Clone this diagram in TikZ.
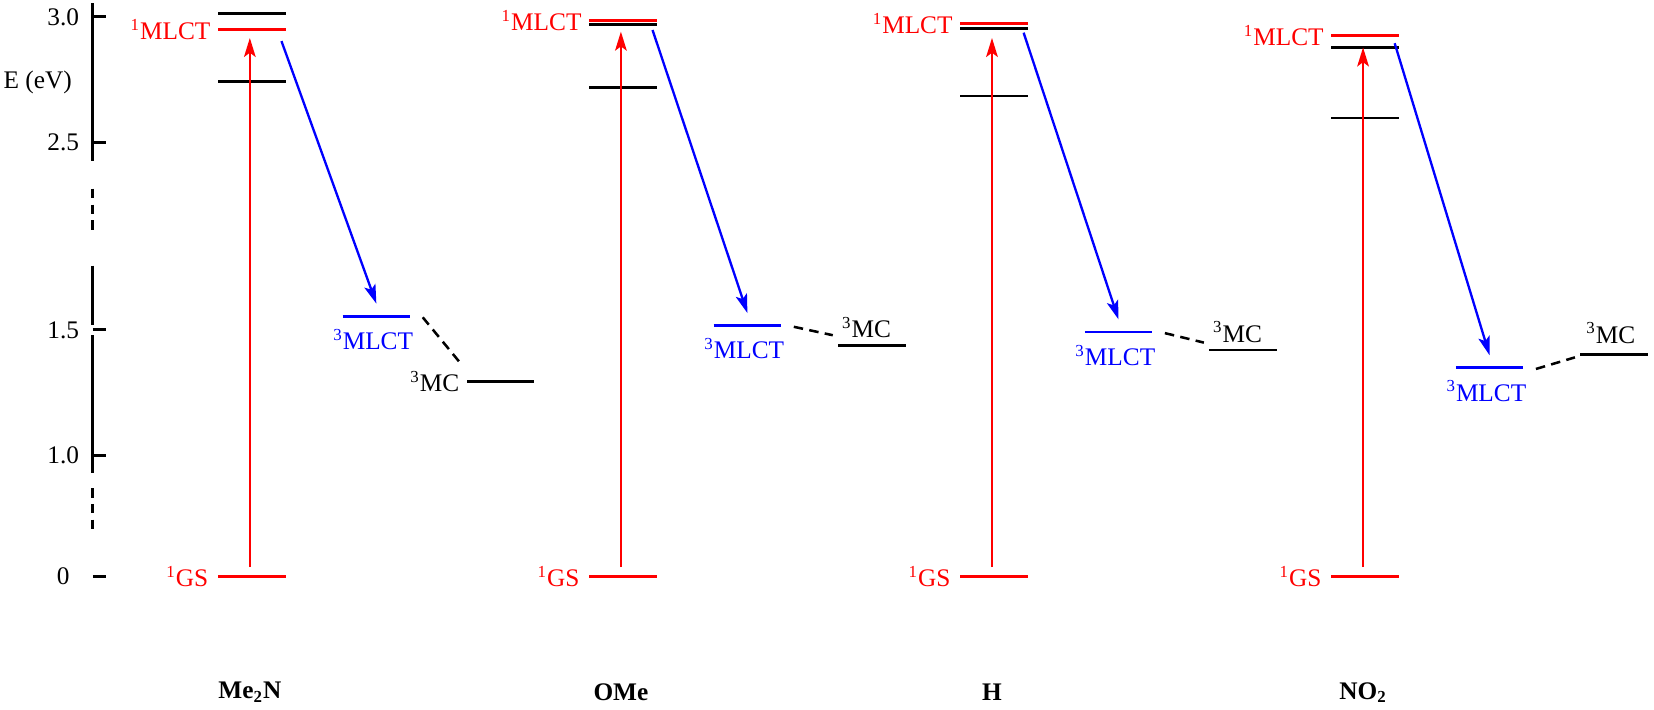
\documentclass[tikz,border=0pt]{standalone}
\usepackage{fontspec}
\setmainfont{Liberation Serif}
\usepackage{tikz}
\usetikzlibrary{arrows.meta}

\begin{document}
\begin{tikzpicture}[
            x=0.5pt, y=-0.5pt,
            font=\rmfamily\fontsize{12}{14}\selectfont,
            >={Stealth[length=9pt, width=5.5pt, inset=2pt]},
            level/.style={line width=1.35pt},
            arrow/.style={line width=1.1pt},
            axis/.style={line width=1.4pt},
            link/.style={line width=1.2pt, dash pattern=on 4.5pt off 3pt},
            tag/.style={inner sep=0pt},
            declare function={
                Start=207;
                Step=352;
                Width=64;
                Low=547;
                Base=657;
            }
        ]
            \useasboundingbox (0, 0) rectangle (1569, 673);

            % energy axis, broken twice
            \draw[axis] (88, 3) -- (88, 153);
            \draw[axis, dash pattern=on 4.5pt off 3pt] (88, 179) -- (88, 218);
            \draw[axis] (88, 252) -- (88, 308);
            \draw[axis] (88, 318) -- (88, 449);
            \draw[axis, dash pattern=on 4.5pt off 3pt] (88, 463) -- (88, 505);
            \foreach \y/\lab [count=\k] in {16/3.0, 135/2.5, 313/1.5, 432/1.0, 547/0} {
                \draw[axis] (88, \y) -- (101, \y);
                \node[tag] (tick\k) at (60, \y) {\lab};
            }
            \node[tag, anchor=west] (elabel) at (3, 78) {E (eV)};

            \foreach \i/\red/\blka/\blkb/\tip/\from/\trip/\mc/\dash/\name in {
                0/28/12.7/77/36/39/300/362/346/{Me\textsubscript{2}N},
                1/19.5/23/83/30/28.5/309/328/318/OMe,
                2/22/27/91/36/31/315/332/325/H,
                3/34/45/112/45/41/349/336/339/{NO\textsubscript{2}}
            } {
                \pgfmathsetmacro\X{Start + Step * \i}

                % singlet levels
                \draw[level] (\X, \blka) -- ++(Width, 0);
                \draw[level] (\X, \blkb) -- ++(Width, 0);
                \draw[level, red] (\X, \red) -- ++(Width, 0);
                \draw[level, red] (\X, Low) -- ++(Width, 0);
                \node[tag, red, anchor=east] (sl\i) at (\X - 7, \red) {\textsuperscript{1}MLCT};
                \node[tag, red, anchor=east] (gs\i) at (\X - 9, Low) {\textsuperscript{1}GS};

                % triplet levels
                \draw[level, blue] (\X + 118, \trip) -- ++(Width, 0);
                \node[tag, blue] (tl\i) at (\X + 147, \trip + 22) {\textsuperscript{3}MLCT};
                \draw[level] (\X + 236, \mc) -- ++(Width, 0);

                % excitation and intersystem crossing
                \coordinate (up\i) at (\X + 30, Low - 9);
                \coordinate (s\i) at (\X + 30, \tip);
                \draw[arrow, red, ->] (up\i) -- (s\i);
                \coordinate (isc\i) at (\X + 60, \from);
                \coordinate (t\i) at (\X + 150, \trip - 12);
                \draw[arrow, blue, ->] (isc\i) -- (t\i);

                % link to the 3MC state
                \coordinate (da\i) at (\X + 194, \trip + 1);
                \coordinate (db\i) at (\X + 231, \dash);
                \draw[link] (da\i) -- (db\i);

                \node[tag] (n\i) at (\X + 30, Base) {\textbf{\name}};
            }

            \node[tag, anchor=east] (mc0) at (Start + 229, 362) {\textsuperscript{3}MC};
            \node[tag] (mc1) at (Start + Step + 263, 311) {\textsuperscript{3}MC};
            \node[tag] (mc2) at (Start + 2 * Step + 263, 315) {\textsuperscript{3}MC};
            \node[tag] (mc3) at (Start + 3 * Step + 265, 316) {\textsuperscript{3}MC};
        \end{tikzpicture}
\end{document}
